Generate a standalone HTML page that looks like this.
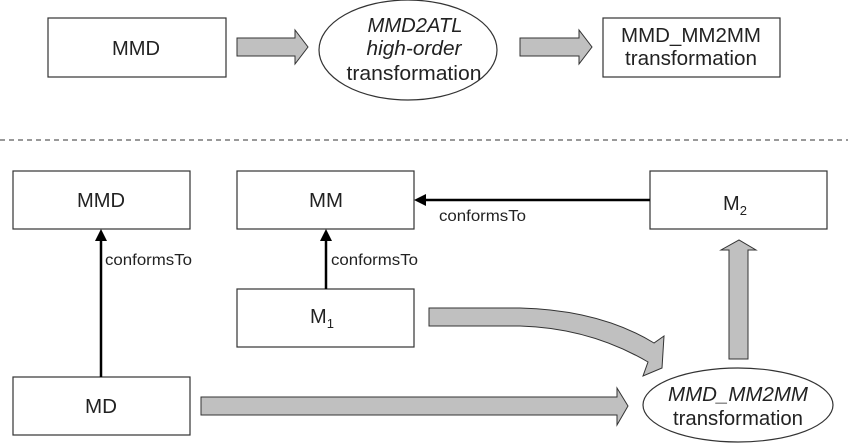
<!DOCTYPE html>
<html><head><meta charset="utf-8"><style>body{margin:0;background:#fff}svg{display:block}text{font-family:"Liberation Sans",Arial,sans-serif;fill:#222}</style></head>
<body>
<svg width="848" height="445" viewBox="0 0 848 445" xmlns="http://www.w3.org/2000/svg">
<g stroke="#333" stroke-width="1.2" fill="#fff">
<rect x="48" y="18" width="178" height="59"/>
<ellipse cx="408" cy="50" rx="89" ry="50"/>
<rect x="603" y="18" width="177" height="59"/>
<rect x="13" y="171" width="177" height="58"/>
<rect x="237" y="171" width="177" height="58"/>
<rect x="650" y="171" width="177" height="58"/>
<rect x="237" y="289" width="177" height="58"/>
<rect x="13" y="377" width="177" height="58"/>
<ellipse cx="738" cy="405" rx="95" ry="37"/>
</g>
<g fill="#c0c0c0" stroke="#333" stroke-width="1">
<polygon points="237,38 295,38 295,30 308,47 295,64 295,56 237,56"/>
<polygon points="520,38 579,38 579,30 592,47 579,64 579,56 520,56"/>
<polygon points="201,397 617,397 617,388 628,406 617,425 617,415 201,415"/>
<polygon points="729,359 729,250 721,250 739,240 756,250 748,250 748,359"/>
<path d="M429,308 L520,308 Q600,310 654,343 L664,336 L662,368 L643,376 L648,362 Q590,328 520,326 L429,326 Z"/>
</g>
<line x1="0" y1="140" x2="848" y2="140" stroke="#333" stroke-dasharray="5,4"/>
<g stroke="#000" stroke-width="2.5">
<line x1="101" y1="377" x2="101" y2="238"/>
<line x1="326" y1="289" x2="326" y2="238"/>
<line x1="650" y1="200" x2="424" y2="200"/>
</g>
<g fill="#000">
<polygon points="101,229 95,241 107,241"/>
<polygon points="326,229 320,241 332,241"/>
<polygon points="414,200 426,194 426,206"/>
</g>
<g font-size="20" text-anchor="middle">
<text x="136" y="55" textLength="48" lengthAdjust="spacingAndGlyphs">MMD</text>
<text x="415" y="32" font-style="italic" textLength="95" lengthAdjust="spacingAndGlyphs">MMD2ATL</text>
<text x="414" y="55" font-style="italic" textLength="95" lengthAdjust="spacingAndGlyphs">high-order</text>
<text x="414" y="80" textLength="135" lengthAdjust="spacingAndGlyphs">transformation</text>
<text x="691" y="42" textLength="140" lengthAdjust="spacingAndGlyphs">MMD_MM2MM</text>
<text x="691" y="65" textLength="132" lengthAdjust="spacingAndGlyphs">transformation</text>
<text x="101" y="207" textLength="48" lengthAdjust="spacingAndGlyphs">MMD</text>
<text x="326" y="207" textLength="34" lengthAdjust="spacingAndGlyphs">MM</text>
<text x="735" y="210">M<tspan font-size="13" dy="5">2</tspan></text>
<text x="322" y="323">M<tspan font-size="13" dy="5">1</tspan></text>
<text x="101" y="413" textLength="32" lengthAdjust="spacingAndGlyphs">MD</text>
<text x="738" y="401" font-style="italic" textLength="140" lengthAdjust="spacingAndGlyphs">MMD_MM2MM</text>
<text x="738" y="425" textLength="130" lengthAdjust="spacingAndGlyphs">transformation</text>
</g>
<g font-size="16">
<text x="105" y="265" textLength="87" lengthAdjust="spacingAndGlyphs">conformsTo</text>
<text x="331" y="265" textLength="87" lengthAdjust="spacingAndGlyphs">conformsTo</text>
<text x="439" y="221" textLength="87" lengthAdjust="spacingAndGlyphs">conformsTo</text>
</g>
</svg>
</body></html>
